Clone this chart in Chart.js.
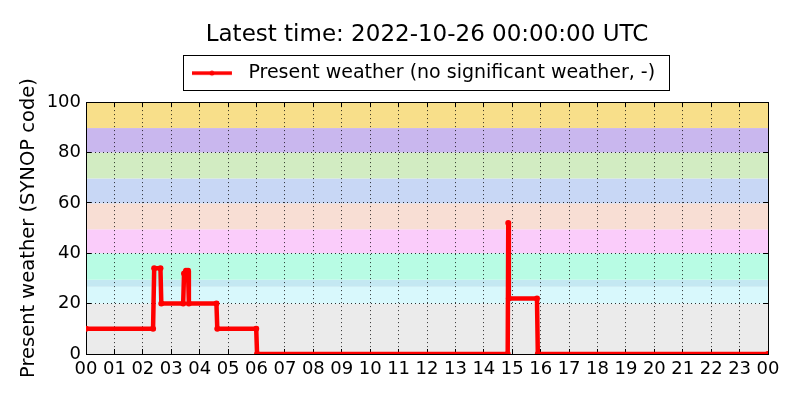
<!DOCTYPE html>
<html>
<head>
<meta charset="utf-8">
<script src="https://cdn.jsdelivr.net/npm/chart.js@4.4.0/dist/chart.umd.min.js"></script>
<style>
  html, body { margin: 0; padding: 0; background: #fff; }
  #wrap { width: 800px; height: 400px; }
</style>
</head>
<body>
<div id="wrap"><canvas id="weatherChart" width="800" height="400"></canvas></div>
<script>
// hour tick labels (last one is midnight of the next day)
const hourLabels = ['00', '01', '02', '03', '04', '05', '06', '07', '08', '09', '10', '11',
                    '12', '13', '14', '15', '16', '17', '18', '19', '20', '21', '22', '23', '00'];

// observation times (hours since 00 UTC) and SYNOP present weather codes
const obsHours = [0, 2.36, 2.40, 2.62, 2.65, 3.42, 3.45, 3.52, 3.59, 3.62, 4.59, 4.62,
                  5.99, 6.02, 14.84, 14.86, 14.88, 15.87, 15.90, 24];
const presentWeather = [10, 10, 34, 34, 20, 20, 32, 33, 33, 20, 20, 10,
                        10, 0, 0, 52, 22, 22, 0, 0];

// SYNOP code groups shown as background bands
const bandEdges = [0, 20, 26.7, 29.5, 40, 49.5, 59.8, 69.7, 80, 89.7, 100];
const bandColors = ['#ebebeb', '#d8f8fc', '#c4e8f2', '#b8fce4', '#faccfa',
                    '#f8ded4', '#c8d7f5', '#d2ecc2', '#c9b7ee', '#f8df8a'];

Chart.defaults.font.family = "'DejaVu Sans', sans-serif";
Chart.defaults.color = '#000';

// legend sample: red line with a small dot, like the plotted series
const legendMark = document.createElement('canvas');
legendMark.width = 54;
legendMark.height = 10;
const lctx = legendMark.getContext('2d');
lctx.strokeStyle = '#ff0000';
lctx.lineWidth = 3.5;
lctx.beginPath();
lctx.moveTo(0, 5);
lctx.lineTo(40, 5);
lctx.stroke();
lctx.fillStyle = '#ff0000';
lctx.beginPath();
lctx.arc(20, 5, 2.5, 0, Math.PI * 2);
lctx.fill();

const bandPlugin = {
  id: 'synopBands',
  beforeDraw(chart) {
    const { ctx, chartArea, scales: { y } } = chart;
    ctx.save();
    for (let i = 0; i < bandColors.length; i++) {
      const top = y.getPixelForValue(bandEdges[i + 1]);
      const bottom = y.getPixelForValue(bandEdges[i]);
      ctx.fillStyle = bandColors[i];
      ctx.fillRect(chartArea.left, top, chartArea.right - chartArea.left, bottom - top);
    }
    ctx.restore();
  }
};

// black frame round the legend entry
const legendFrame = {
  id: 'legendFrame',
  afterDraw(chart) {
    const box = chart.legend.legendHitBoxes[0];
    if (!box) return;
    const ctx = chart.ctx;
    ctx.save();
    ctx.strokeStyle = '#000';
    ctx.lineWidth = 1;
    ctx.strokeRect(Math.round(box.left - 16) + 0.5, Math.round(box.top - 9) + 0.5,
                   Math.round(box.width + 30), Math.round(box.height + 16));
    ctx.restore();
  }
};

const points = obsHours.map((h, i) => ({ x: h, y: presentWeather[i] }));

const gridStyle = {
  color: 'rgba(0, 0, 0, 0.8)',
  lineWidth: 1,
  tickLength: -5,
  tickColor: '#000',
  tickWidth: 1
};
const borderStyle = { display: true, color: '#000', width: 1, dash: [1, 3] };

new Chart(document.getElementById('weatherChart'), {
  type: 'line',
  data: {
    datasets: [{
      label: 'Present weather (no significant weather, -)',
      data: points,
      borderColor: '#ff0000',
      backgroundColor: '#ff0000',
      borderWidth: 4.5,
      pointRadius: 3,
      pointBorderWidth: 0,
      pointBackgroundColor: '#ff0000',
      tension: 0,
      clip: 0
    }]
  },
  options: {
    responsive: false,
    animation: false,
    devicePixelRatio: 1,
    layout: { padding: 0 },
    plugins: {
      title: {
        display: true,
        text: 'Latest time: 2022-10-26 00:00:00 UTC',
        fullSize: false,
        font: { size: 23, weight: 'normal' },
        padding: { top: 21, bottom: 0 }
      },
      legend: {
        display: true,
        fullSize: false,
        labels: {
          font: { size: 19 },
          padding: 15,
          usePointStyle: true,
          pointStyle: legendMark,
          pointStyleWidth: 40
        }
      },
      tooltip: { enabled: false }
    },
    scales: {
      x: {
        type: 'linear',
        position: 'bottom',
        min: 0,
        max: 24,
        ticks: {
          stepSize: 1,
          padding: 10,
          autoSkip: false,
          maxRotation: 0,
          minRotation: 0,
          font: { size: 18 },
          callback: (v) => hourLabels[v]
        },
        grid: gridStyle,
        border: borderStyle,
        afterFit: (scale) => { scale.height = 46; scale.paddingRight = 32; scale.paddingLeft = 0; }
      },
      x2: {
        type: 'linear',
        position: 'top',
        min: 0,
        max: 24,
        ticks: { stepSize: 1, display: false, autoSkip: false },
        grid: Object.assign({}, gridStyle, { drawOnChartArea: false }),
        border: { display: true, color: '#000', width: 1 },
        afterFit: (scale) => { scale.height = 9.5; }
      },
      y: {
        type: 'linear',
        position: 'left',
        min: 0,
        max: 100,
        ticks: {
          stepSize: 20,
          padding: 10,
          font: { size: 18 }
        },
        title: {
          display: true,
          text: 'Present weather (SYNOP code)',
          font: { size: 19.5 },
          padding: { top: 17, bottom: 0 }
        },
        grid: gridStyle,
        border: borderStyle,
        afterFit: (scale) => { scale.width = 86; }
      },
      y2: {
        type: 'linear',
        position: 'right',
        min: 0,
        max: 100,
        ticks: { stepSize: 20, display: false },
        grid: Object.assign({}, gridStyle, { drawOnChartArea: false }),
        border: { display: true, color: '#000', width: 1 },
        afterFit: (scale) => { scale.width = 0; }
      }
    }
  },
  plugins: [bandPlugin, legendFrame]
});
</script>
</body>
</html>
